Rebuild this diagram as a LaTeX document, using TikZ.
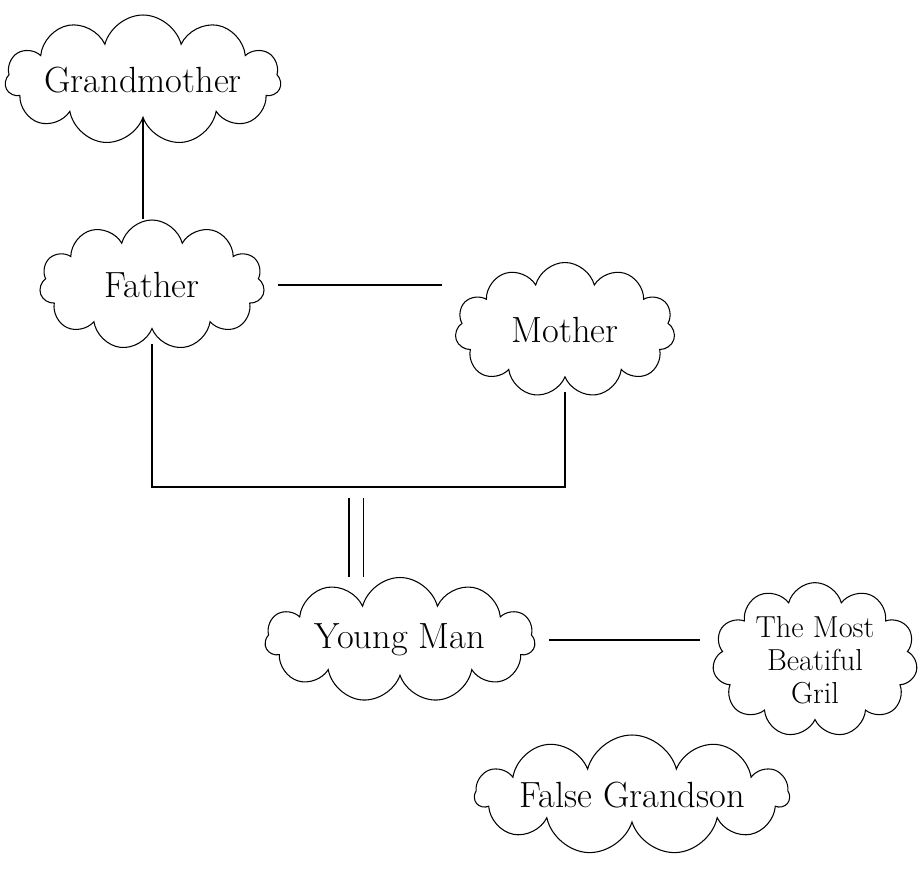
\documentclass[tikz,border=0pt]{standalone}
\usetikzlibrary{positioning,shapes.symbols}

\begin{document}
\begin{tikzpicture}[
    x=0.02cm, y=-0.02cm,
    person/.style={cloud,draw,line width=0.6pt,cloud puffs=11,cloud ignores aspect,
                   align=center,font=\huge,inner sep=0pt},
    link/.style={draw,line width=0.6pt,shorten <=8pt,shorten >=8pt}
]
\useasboundingbox (0,0) rectangle (921,874);

% nodes
\node[person,minimum width=5.4cm,minimum height=2.6cm] (gm) at (143,80)  {Grandmother};
\node[person,minimum width=4.5cm,minimum height=2.6cm] (fa) at (152,285) {Father};
\node[person,minimum width=4.4cm,minimum height=2.7cm] (mo) at (565,330) {Mother};
\node[person,minimum width=5.4cm,minimum height=2.5cm] (ym) at (400,640) {Young Man};
\node[person,minimum width=4.1cm,minimum height=2.5cm,
      font=\LARGE\linespread{0.85}\selectfont] (gi) at (815,660) {The Most\\Beatiful\\Gril};
\node[person,minimum width=5.5cm,minimum height=2.4cm] (fg) at (632,795) {False Grandson};

% grandmother -> father
\draw[line width=0.6pt] (gm.south) -- (gm.south |- fa.north);

% father -- mother
\draw[link] (fa.east) -- (fa.east -| mo.west);

% parents join down to the young man
\coordinate (join) at (356,487);
\draw[link] (fa.south) |- (join) -| (mo.south);
\draw[line width=0.6pt,double,double distance=0.26cm,shorten <=6pt] (join) -- (join |- ym.north);

% young man -- girl
\draw[link] (ym.east) -- (ym.east -| gi.west);

\end{tikzpicture}
\end{document}
